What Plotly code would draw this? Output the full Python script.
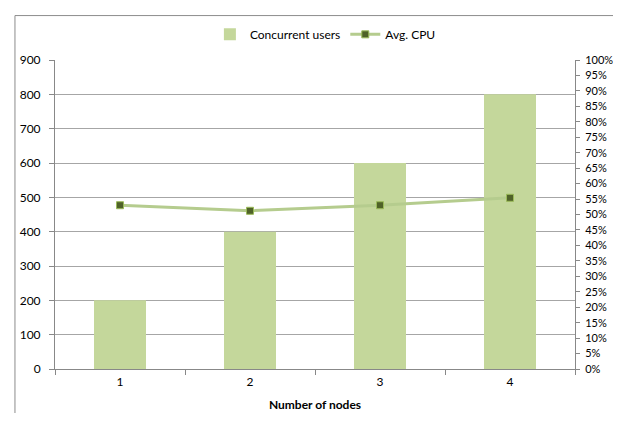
import plotly.graph_objects as go

nodes = ["1", "2", "3", "4"]
users = [200, 400, 600, 800]
cpu = [0.53, 0.512, 0.53, 0.554]

font_family = "Lato, Liberation Sans, sans-serif"

fig = go.Figure()
fig.add_trace(go.Bar(
    x=nodes, y=users, name="Concurrent users",
    marker=dict(color="#C4D79B", line=dict(width=0)),
    width=0.4,
))
fig.add_trace(go.Scatter(
    x=nodes, y=cpu, name="Avg. CPU", yaxis="y2",
    mode="lines+markers",
    line=dict(color="#B5CC8E", width=3),
    marker=dict(symbol="square", size=7, color="#4F6228",
                line=dict(color="#9BBB59", width=1)),
))

# page body has an 8px default margin; size the figure to fit the 621x421 window
fig.update_layout(
    width=613, height=405,
    margin=dict(l=47, r=46, t=48, b=44),
    paper_bgcolor="white", plot_bgcolor="white",
    font=dict(family=font_family, size=12, color="#000000"),
    showlegend=True,
    legend=dict(orientation="h", x=0.52, xanchor="center", y=1.083, yanchor="middle",
                font=dict(size=12), traceorder="normal"),
    xaxis=dict(
        type="category", showgrid=False, showline=True, linecolor="#888888", linewidth=1,
        ticks="outside", tickson="boundaries", ticklen=5, tickcolor="#888888",
        title=dict(text="<b>Number of nodes</b>", font=dict(size=12), standoff=12),
        automargin=False, ticklabelstandoff=2,
    ),
    yaxis=dict(
        range=[0, 900], dtick=100, showgrid=True, gridcolor="#A6A6A6", gridwidth=1,
        showline=True, linecolor="#888888", ticks="outside", ticklen=5, tickcolor="#888888",
        zeroline=False, automargin=False, ticklabelstandoff=6,
    ),
    yaxis2=dict(
        range=[0, 1], dtick=0.05, tickformat=".0%", overlaying="y", side="right",
        showgrid=False, showline=True, linecolor="#888888", ticks="outside", ticklen=4,
        tickcolor="#888888", zeroline=False, automargin=False, ticklabelstandoff=3,
        tickfont=dict(size=11),
    ),
    shapes=[
        dict(type="line", xref="paper", yref="paper", x0=-0.077, x1=1.2, y0=1.1438, y1=1.1438,
             line=dict(color="#8C8C8C", width=1)),
        dict(type="line", xref="paper", yref="paper", x0=-0.077, x1=-0.077, y0=-0.3, y1=1.1438,
             line=dict(color="#8C8C8C", width=1)),
    ],
)

fig.write_html("out.html")
